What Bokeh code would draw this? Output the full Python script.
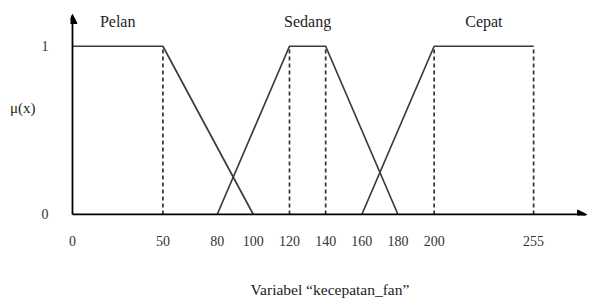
from bokeh.plotting import figure
from bokeh.models import Arrow, NormalHead, FixedTicker, Range1d, ColumnDataSource
from bokeh.core.properties import value
from bokeh.embed import file_html
from bokeh.resources import INLINE

# Membership functions (x breakpoints, membership degree)
pelan_x = [0, 50, 100]
pelan_y = [1, 1, 0]
sedang_x = [80, 120, 140, 180]
sedang_y = [0, 1, 1, 0]
cepat_x = [160, 200, 255]
cepat_y = [0, 1, 1]
set_names = ["Pelan", "Sedang", "Cepat"]
x_ticks = [0, 50, 80, 100, 120, 140, 160, 180, 200, 255]
y_ticks = [0, 1]
x_title = "Variabel \u201ckecepatan_fan\u201d"
y_title = "\u03bc(x)"

FONT = "Liberation Serif"
INK = "#333333"

p = figure(width=589, height=300, output_backend="svg", toolbar_location=None,
           x_range=Range1d(-1.1, 285.9), y_range=Range1d(-0.006, 1.272),
           min_border_left=70, min_border_right=0, min_border_top=0,
           min_border_bottom=84)
p.outline_line_color = None
p.grid.visible = False
p.background_fill_color = "white"

sets = [(pelan_x, pelan_y), (sedang_x, sedang_y), (cepat_x, cepat_y)]

# membership lines
for xs, ys in sets:
    p.line(xs, ys, line_color="#3c3c3c", line_width=1.7)

# dashed verticals at the plateau corners (where membership = 1, excluding x=0)
dash_x = [x for xs, ys in sets for x, y in zip(xs, ys) if y == 1 and x != 0]
p.segment(x0=dash_x, y0=[0] * len(dash_x), x1=dash_x, y1=[1] * len(dash_x),
          line_color="#333333", line_width=1.7, line_dash="4 3")

# set labels centred over each plateau
plateaus = []
for xs, ys in sets:
    top = [x for x, y in zip(xs, ys) if y == 1]
    plateaus.append((min(top) + max(top)) / 2)
src = ColumnDataSource(dict(x=plateaus, y=[1.148] * 3, t=set_names))
p.text(x="x", y="y", text="t", source=src, text_font=value(FONT),
       text_font_size="16px", text_color="#222222", text_align="center",
       text_baseline="middle")

# axis arrows
head = dict(size=9, fill_color="black", line_color="black")
p.add_layout(Arrow(end=NormalHead(**head), x_start=0, y_start=0,
                   x_end=284.3, y_end=0, line_color="black", line_width=1.8))
p.add_layout(Arrow(end=NormalHead(**head), x_start=0, y_start=0,
                   x_end=0, y_end=1.189, line_color="black", line_width=1.8))

# axes (labels only)
xa = p.xaxis[0]
xa.ticker = FixedTicker(ticks=x_ticks)
xa.axis_line_color = None
xa.major_tick_line_color = None
xa.minor_tick_line_color = None
xa.major_tick_out = 0
xa.major_tick_in = 0
xa.major_label_standoff = 20
xa.major_label_text_font = FONT
xa.major_label_text_font_size = "14px"
xa.major_label_text_color = INK
xa.axis_label = x_title
xa.axis_label_text_font = FONT
xa.axis_label_text_font_style = "normal"
xa.axis_label_text_font_size = "15.5px"
xa.axis_label_text_color = "#222222"
xa.axis_label_standoff = 32

ya = p.yaxis[0]
ya.ticker = FixedTicker(ticks=y_ticks)
ya.axis_line_color = None
ya.major_tick_line_color = None
ya.minor_tick_line_color = None
ya.major_tick_out = 0
ya.major_tick_in = 0
ya.major_label_standoff = 22
ya.major_label_text_font = FONT
ya.major_label_text_font_size = "14px"
ya.major_label_text_color = INK
ya.axis_label = y_title
ya.axis_label_orientation = "horizontal"
ya.axis_label_text_font = FONT
ya.axis_label_text_font_style = "normal"
ya.axis_label_text_font_size = "15px"
ya.axis_label_text_color = "#222222"
ya.axis_label_text_baseline = "top"
ya.axis_label_standoff = 3

open("out.html", "w").write(file_html(p, INLINE))
